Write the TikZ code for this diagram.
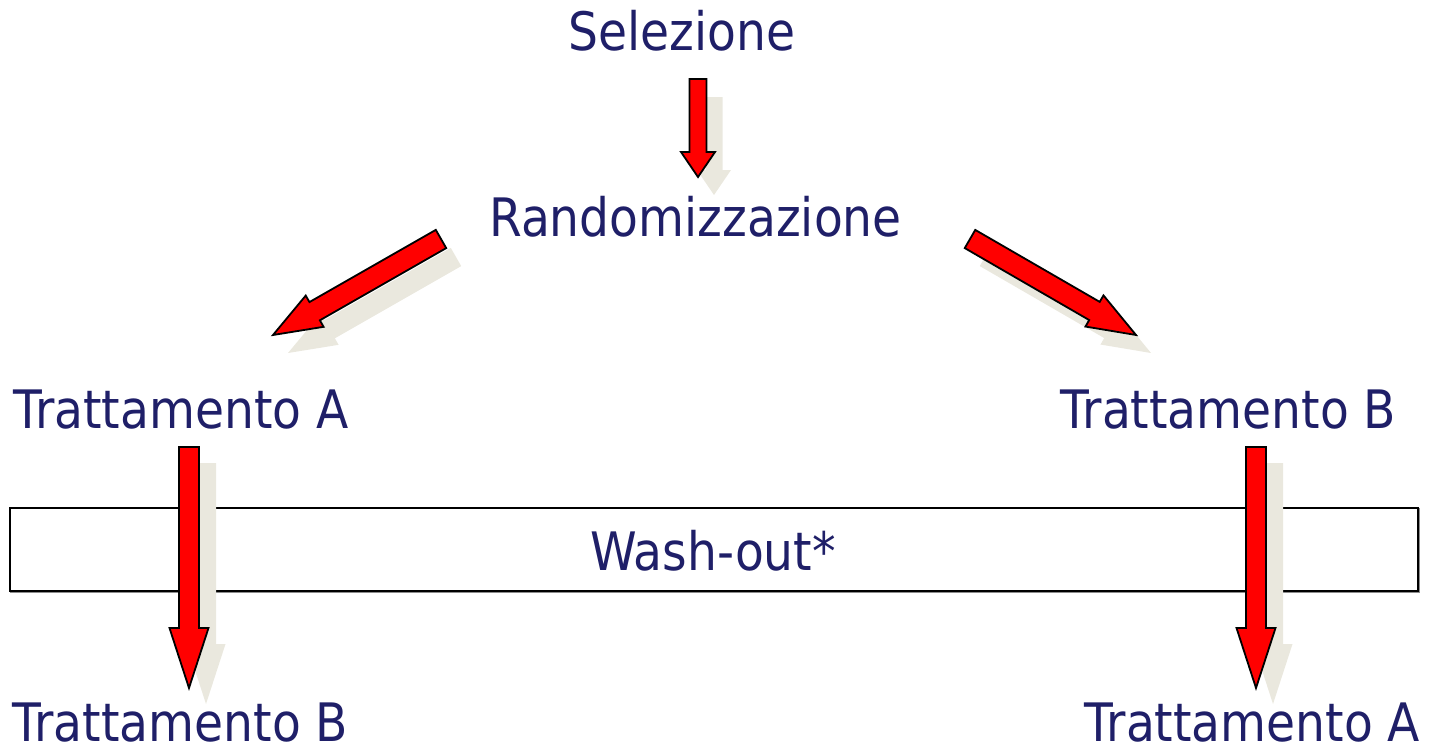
\documentclass[tikz,border=0pt]{standalone}
\usepackage{fontspec}
\setmainfont{DejaVu Sans}[FakeStretch=0.89]
\usetikzlibrary{calc}
\definecolor{txtblue}{RGB}{31,31,104}
\definecolor{shadowc}{RGB}{234,232,222}
% tail, tip, style, offset, half shaft, half head, head length
\newcommand\blkarrow[7]{%
  \path ($(#1)+(#4)$) coordinate (bt) ($(#2)+(#4)$) coordinate (bp);
  \path ($(bp)!#7!(bt)$) coordinate (bh);
  \draw[#3] ($(bt)!#5!90:(bp)$) -- ($(bh)!#5!90:(bp)$) -- ($(bh)!#6!90:(bp)$) -- (bp)
    -- ($(bh)!#6!-90:(bp)$) -- ($(bh)!#5!-90:(bp)$) -- ($(bt)!#5!-90:(bp)$) -- cycle;
}
\tikzset{
  lbl/.style={text=txtblue, font=\fontsize{53}{60}\selectfont, inner sep=0pt, anchor=base, text depth=0pt},
  redarrow/.style={fill=red, draw=black, line width=1.8pt, line join=miter},
  shadarrow/.style={fill=shadowc, draw=none},
}
\begin{document}
\begin{tikzpicture}[x=1pt, y=-1pt]
\useasboundingbox (0,0) rectangle (1431,750);
% wash-out box
\draw[gray!90, line width=2pt] (11,509) rectangle (1419,592);
\node[draw=black, fill=white, line width=1.3pt, minimum width=1408pt, minimum height=83pt, inner sep=0pt] (washbox) at (714,549.5) {};
% arrow end points
\coordinate (a1t) at (698,79);   \coordinate (a1h) at (698,177);
\coordinate (a2t) at (441,239);  \coordinate (a2h) at (273,335);
\coordinate (a3t) at (970,239);  \coordinate (a3h) at (1136,335);
\coordinate (a4t) at (189,447);  \coordinate (a4h) at (189,688);
\coordinate (a5t) at (1256,447); \coordinate (a5h) at (1256,688);
% shadows
\blkarrow{a1t}{a1h}{shadarrow}{16,18}{8.5pt}{17pt}{25pt}
\blkarrow{a2t}{a2h}{shadarrow}{15,18}{10.5pt}{18pt}{48pt}
\blkarrow{a3t}{a3h}{shadarrow}{15,18}{10.5pt}{18pt}{48pt}
\blkarrow{a4t}{a4h}{shadarrow}{17,16}{10pt}{19.5pt}{60pt}
\blkarrow{a5t}{a5h}{shadarrow}{17,16}{10pt}{19.5pt}{60pt}
% red arrows
\blkarrow{a1t}{a1h}{redarrow}{0,0}{8.5pt}{17pt}{25pt}
\blkarrow{a2t}{a2h}{redarrow}{0,0}{10.5pt}{18pt}{48pt}
\blkarrow{a3t}{a3h}{redarrow}{0,0}{10.5pt}{18pt}{48pt}
\blkarrow{a4t}{a4h}{redarrow}{0,0}{10pt}{19.5pt}{60pt}
\blkarrow{a5t}{a5h}{redarrow}{0,0}{10pt}{19.5pt}{60pt}
% labels
\node[lbl] (sel) at (682,50) {Selezione};
\node[lbl] (rand) at (695.5,236) {Randomizzazione};
\node[lbl] (tA1) at (181,428) {Trattamento A};
\node[lbl] (tB1) at (1228.5,428) {Trattamento B};
\node[lbl] (wash) at (713,570) {Wash-out*};
\node[lbl] (tB2) at (180.5,741) {Trattamento B};
\node[lbl] (tA2) at (1252.5,741) {Trattamento A};
\end{tikzpicture}
\end{document}
